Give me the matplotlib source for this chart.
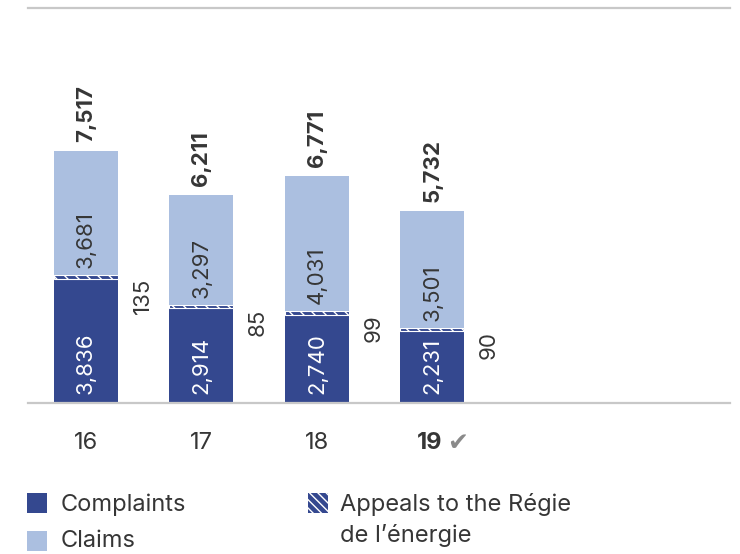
import matplotlib.pyplot as plt
from matplotlib.patches import Rectangle

years = ['16', '17', '18', '19']
complaints = [3836, 2914, 2740, 2231]
claims = [3681, 3297, 4031, 3501]
appeals = [135, 85, 99, 90]

dark = '#34488f'
light = '#abbfe0'
text_col = '#363636'
grid_col = '#c8c8c8'
fs = 16
fs_big = 17

plt.rcParams['font.family'] = ['Inter', 'DejaVu Sans']
plt.rcParams['hatch.linewidth'] = 1.0

fig = plt.figure(figsize=(7.4, 5.54), dpi=100)
ax = fig.add_axes([28 / 740, 1 - 403 / 554, 702 / 740, 395 / 554])

x = range(len(years))
w = 0.554
base = [c - a for c, a in zip(complaints, appeals)]
ax.bar(x, base, width=w, color=dark, linewidth=0)
ax.bar(x, appeals, width=w, bottom=base, color=dark, edgecolor='white',
       linewidth=0.8, hatch='\\\\\\')
ax.bar(x, claims, width=w, bottom=complaints, color=light, linewidth=0)

for i in x:
    total = complaints[i] + claims[i]
    ax.annotate(f'{complaints[i]:,}', (i, 0), xytext=(0, 9), textcoords='offset pixels',
                rotation=90, ha='center', va='bottom', color='white', fontsize=fs)
    ax.annotate(f'{claims[i]:,}', (i, complaints[i]), xytext=(0, 7), textcoords='offset pixels',
                rotation=90, ha='center', va='bottom', color=text_col, fontsize=fs)
    ax.annotate(f'{appeals[i]:,}', (i + 0.49, complaints[i]), xytext=(0, -3),
                textcoords='offset pixels', rotation=90, ha='center', va='top',
                color=text_col, fontsize=fs)
    ax.annotate(f'{total:,}', (i, total), xytext=(0, 9), textcoords='offset pixels',
                rotation=90, ha='center', va='bottom', color=text_col, fontsize=fs,
                fontweight='bold')
    last = i == len(years) - 1
    ax.annotate(years[i], (i, 0), xytext=(-3 if last else 0, -40), textcoords='offset pixels',
                ha='center', va='center', color=text_col, fontsize=fs_big,
                fontweight='bold' if last else 'normal')
    if last:
        ax.annotate('\u2714', (i, 0), xytext=(25, -40), textcoords='offset pixels',
                    ha='center', va='center', color='#8a8a8a', fontsize=18,
                    family='DejaVu Sans')

ax.set_xlim(-0.502, 5.576)
ax.set_ylim(0, 11800)
ax.set_xticks([])
ax.set_yticks([])
for side in ['left', 'right']:
    ax.spines[side].set_visible(False)
for side in ['top', 'bottom']:
    ax.spines[side].set_color(grid_col)
    ax.spines[side].set_linewidth(1.6)

# legend drawn by hand so the two-line label keeps its square on the first line
def key(px, py, **kw):
    fig.patches.append(Rectangle((px / 740, 1 - (py + 20) / 554), 20 / 740, 20 / 554,
                                 transform=fig.transFigure, linewidth=0, **kw))

key(27, 493, color=dark)
key(27, 531, color=light)
key(308, 493, facecolor=dark, edgecolor='white', hatch='\\\\\\\\')
fig.text(61 / 740, 1 - 505 / 554, 'Complaints', va='center', color=text_col, fontsize=fs_big)
fig.text(61 / 740, 1 - 541 / 554, 'Claims', va='center', color=text_col, fontsize=fs_big)
fig.text(340 / 740, 1 - 493 / 554, 'Appeals to the Régie\nde l\u2019énergie', va='top',
         color=text_col, fontsize=fs_big, linespacing=1.45)

fig.savefig('out.png', dpi=100)
